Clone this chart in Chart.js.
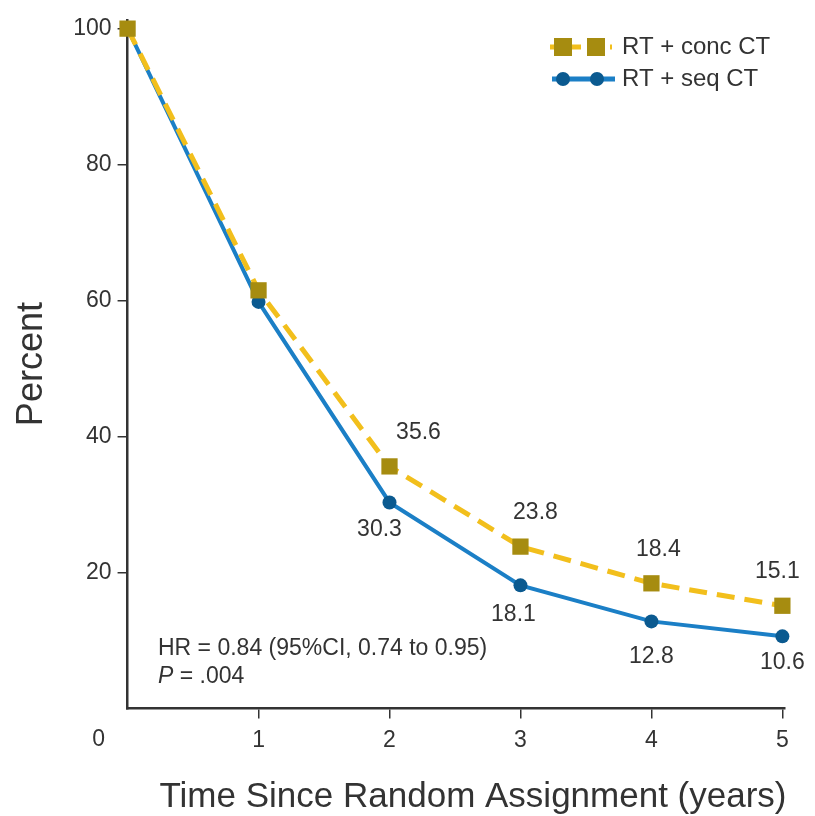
<!DOCTYPE html>
<html>
<head>
<meta charset="utf-8">
<script src="https://cdn.jsdelivr.net/npm/chart.js@4"></script>
<style>
  html, body { margin: 0; padding: 0; background: #fff; }
  #wrap { width: 815px; height: 816px; }
</style>
</head>
<body>
<div id="wrap"><canvas id="chart" width="815" height="816"></canvas></div>
<script>
// data
var years = [0, 1, 2, 3, 4, 5];
var concCT = [100, 61.5, 35.6, 23.8, 18.4, 15.1];
var seqCT = [100, 59.8, 30.3, 18.1, 12.8, 10.6];
var concLabels = ['', '', '35.6', '23.8', '18.4', '15.1'];
var seqLabels = ['', '', '30.3', '18.1', '12.8', '10.6'];
var yTicks = [20, 40, 60, 80, 100];
var xTicks = [1, 2, 3, 4, 5];

var FONT = 'Liberation Sans, Arial, sans-serif';
var TXT = '#333';
var YELLOW = '#f2bf1c';
var GOLD = '#a68c10';
var BLUE = '#1b7fc6';
var NAVY = '#0b5a90';

function pts(vals) {
	return vals.map(function(v, i) { return { x: years[i], y: v }; });
}

// value labels, HR text, axis title, the corner "0" and the legend
var extras = {
	id: 'extras',
	afterDatasetsDraw: function(chart) {
		var ctx = chart.ctx;
		ctx.save();
		ctx.fillStyle = TXT;
		ctx.font = '23px ' + FONT;
		ctx.textAlign = 'center';
		ctx.textBaseline = 'middle';

		var m0 = chart.getDatasetMeta(0).data;
		var m1 = chart.getDatasetMeta(1).data;
		concLabels.forEach(function(t, i) {
			if (!t) return;
			var dx = i == 2 ? 29 : (i == 5 ? -5 : (i == 3 ? 15 : 7));
			ctx.fillText(t, m0[i].x + dx, m0[i].y - 34);
		});
		seqLabels.forEach(function(t, i) {
			if (!t) return;
			var dx = i == 2 ? -10 : (i == 3 ? -7 : 0);
			var dy = i == 5 ? 26 : (i == 2 ? 27 : (i == 4 ? 35 : 29));
			ctx.fillText(t, m1[i].x + dx, m1[i].y + dy);
		});

		// HR annotation
		ctx.textAlign = 'left';
		ctx.font = '23px ' + FONT;
		ctx.fillText('HR = 0.84 (95%CI, 0.74 to 0.95)', 158, 649);
		ctx.font = 'italic 23px ' + FONT;
		ctx.fillText('P', 158, 677);
		var pw = ctx.measureText('P').width;
		ctx.font = '23px ' + FONT;
		ctx.fillText(' = .004', 158 + pw, 677);

		// origin label and x title
		var xs = chart.scales.x;
		ctx.textAlign = 'center';
		ctx.fillText('0', xs.left - 29, 740);
		ctx.font = '35px ' + FONT;
		ctx.fillText('Time Since Random Assignment (years)', 473, 797);

		// legend
		ctx.font = '24px ' + FONT;
		ctx.textAlign = 'left';
		ctx.fillText('RT + conc CT', 622, 47);
		ctx.fillText('RT + seq CT', 622, 79);

		ctx.strokeStyle = YELLOW;
		ctx.lineWidth = 5;
		ctx.setLineDash([11, 9]);
		ctx.beginPath();
		ctx.moveTo(550, 47); ctx.lineTo(612, 47);
		ctx.stroke();
		ctx.setLineDash([]);
		ctx.fillStyle = GOLD;
		ctx.fillRect(554, 38, 18, 18);
		ctx.fillRect(587, 38, 18, 18);

		ctx.strokeStyle = BLUE;
		ctx.beginPath();
		ctx.moveTo(552, 79); ctx.lineTo(615, 79);
		ctx.stroke();
		ctx.fillStyle = NAVY;
		[563, 597].forEach(function(cx) {
			ctx.beginPath();
			ctx.arc(cx, 79, 7, 0, Math.PI * 2);
			ctx.fill();
		});
		ctx.restore();
	}
};

window.onload = function() {
	var ctx = document.getElementById('chart').getContext('2d');
	var chart = new Chart(ctx, {
		type: 'line',
		data: {
			datasets: [{
				label: 'RT + conc CT',
				data: pts(concCT),
				borderColor: YELLOW,
				borderWidth: 5,
				borderDash: [18, 10],
				pointStyle: 'rect',
				pointRadius: 11.5,
				pointBackgroundColor: GOLD,
				pointBorderWidth: 0,
				tension: 0,
				clip: false
			}, {
				label: 'RT + seq CT',
				data: pts(seqCT),
				borderColor: BLUE,
				borderWidth: 4,
				pointStyle: 'circle',
				pointRadius: 7,
				pointBackgroundColor: NAVY,
				pointBorderWidth: 0,
				tension: 0,
				clip: false
			}]
		},
		options: {
			responsive: false,
			animation: false,
			layout: { padding: { left: 0, right: 30, top: 0, bottom: 54 } },
			plugins: {
				legend: { display: false },
				tooltip: { enabled: false }
			},
			scales: {
				x: {
					type: 'linear',
					min: 0,
					max: 5.02,
					afterBuildTicks: function(s) {
						s.ticks = xTicks.map(function(v) { return { value: v }; });
					},
					ticks: { color: TXT, font: { family: FONT, size: 23 }, padding: 8 },
					grid: { drawOnChartArea: false, color: TXT, tickLength: 10, lineWidth: 1.5 },
					border: { color: TXT, width: 2.5 }
				},
				y: {
					min: 0,
					max: 101.3,
					afterBuildTicks: function(s) {
						s.ticks = yTicks.map(function(v) { return { value: v }; });
					},
					ticks: { color: TXT, font: { family: FONT, size: 23 }, padding: 6 },
					grid: { drawOnChartArea: false, color: TXT, tickLength: 10, lineWidth: 1.5 },
					border: { color: TXT, width: 2.5 },
					title: {
						display: true,
						text: 'Percent',
						color: TXT,
						font: { family: FONT, size: 36 },
						padding: { top: 10, bottom: 14 }
					}
				}
			}
		},
		plugins: [extras]
	});
};
</script>
</body>
</html>
